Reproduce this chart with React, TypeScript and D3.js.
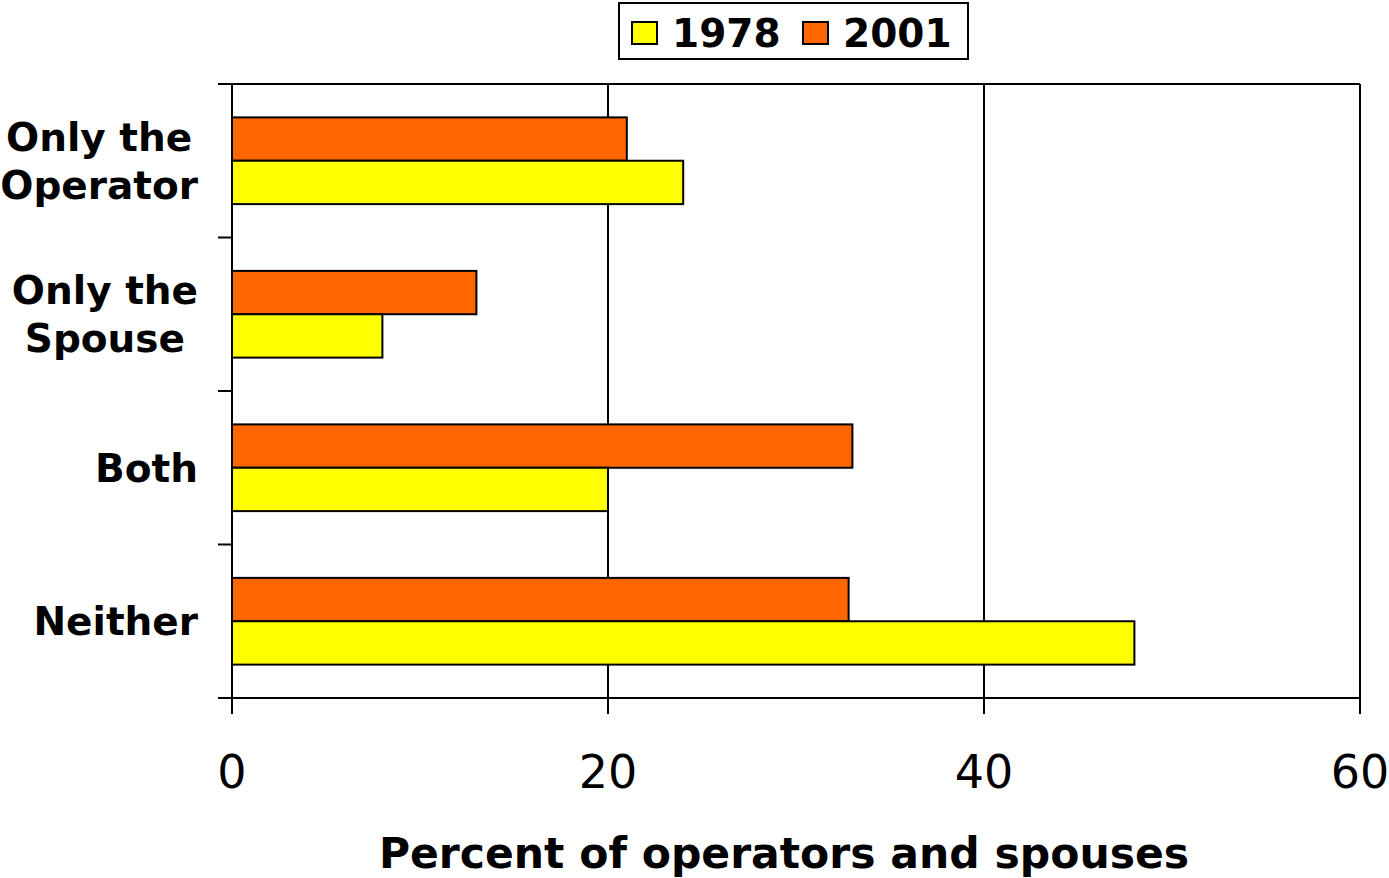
import React, { useEffect, useRef } from "react";
import * as d3 from "d3";

const categories = ["Only the Operator", "Only the Spouse", "Both", "Neither"];
const categoryLines = [["Only the", "Operator"], ["Only the", "Spouse"], ["Both"], ["Neither"]];
const years = ["1978", "2001"];
const values1978 = [24, 8, 20, 48];
const values2001 = [21, 13, 33, 32.8];
const xTicks = [0, 20, 40, 60];
const xTitle = "Percent of operators and spouses";

const colors = { "1978": "#ffff00", "2001": "#ff6600" };
const width = 1389;
const height = 878;
const margin = { top: 84, right: 29, bottom: 180, left: 232 };
const font = "Verdana, 'DejaVu Sans', sans-serif";

export default function App() {
  const svgRef = useRef(null);

  useEffect(() => {
    const root = d3.select(svgRef.current);
    root.selectAll("*").remove();

    const plotW = width - margin.left - margin.right;
    const plotH = height - margin.top - margin.bottom;

    const x = d3.scaleLinear().domain([0, 60]).range([margin.left, margin.left + plotW]);
    const y = d3.scaleBand().domain(categories).range([margin.top, margin.top + plotH]).padding(0);
    // 2001 on top, 1978 below inside each category
    const sub = d3.scaleBand().domain(["2001", "1978"]).range([0, y.step()]).paddingInner(0).paddingOuter(0.77);

    const rows = categories.map((c, i) => ({ cat: c, lines: categoryLines[i], v1978: values1978[i], v2001: values2001[i] }));

    // grid + frame
    root.append("g")
      .selectAll("line")
      .data(xTicks.slice(1))
      .join("line")
      .attr("x1", (d) => x(d)).attr("x2", (d) => x(d))
      .attr("y1", margin.top).attr("y2", margin.top + plotH)
      .attr("stroke", "#000").attr("stroke-width", 2);
    root.append("line")
      .attr("x1", margin.left).attr("x2", margin.left + plotW)
      .attr("y1", margin.top).attr("y2", margin.top)
      .attr("stroke", "#000").attr("stroke-width", 2);

    // bars
    const g = root.append("g");
    rows.forEach((r) => {
      ["2001", "1978"].forEach((yr) => {
        const v = yr === "1978" ? r.v1978 : r.v2001;
        g.append("rect")
          .attr("x", x(0))
          .attr("y", y(r.cat) + sub(yr))
          .attr("width", x(v) - x(0))
          .attr("height", sub.bandwidth())
          .attr("fill", colors[yr])
          .attr("stroke", "#000")
          .attr("stroke-width", 2);
      });
    });

    // Y axis
    root.append("line")
      .attr("x1", margin.left).attr("x2", margin.left)
      .attr("y1", margin.top).attr("y2", margin.top + plotH + 16)
      .attr("stroke", "#000").attr("stroke-width", 2);
    const yBounds = categories.map((c) => y(c)).concat([margin.top + plotH]);
    root.append("g")
      .selectAll("line")
      .data(yBounds)
      .join("line")
      .attr("x1", margin.left - 14).attr("x2", margin.left)
      .attr("y1", (d) => d).attr("y2", (d) => d)
      .attr("stroke", "#000").attr("stroke-width", 2);

    // X axis
    root.append("line")
      .attr("x1", margin.left - 14).attr("x2", margin.left + plotW)
      .attr("y1", margin.top + plotH).attr("y2", margin.top + plotH)
      .attr("stroke", "#000").attr("stroke-width", 2);
    root.append("g")
      .selectAll("line")
      .data(xTicks)
      .join("line")
      .attr("x1", (d) => x(d)).attr("x2", (d) => x(d))
      .attr("y1", margin.top + plotH).attr("y2", margin.top + plotH + 16)
      .attr("stroke", "#000").attr("stroke-width", 2);
    root.append("g")
      .selectAll("text")
      .data(xTicks)
      .join("text")
      .attr("x", (d) => x(d))
      .attr("y", 788)
      .attr("text-anchor", "middle")
      .attr("font-family", font)
      .attr("font-size", 46)
      .text((d) => d);

    root.append("text")
      .attr("x", 784)
      .attr("y", 868)
      .attr("text-anchor", "middle")
      .attr("font-family", font)
      .attr("font-weight", "bold")
      .attr("font-size", 42.5)
      .text(xTitle);

    // category labels: block right aligned, lines centred
    const labelRight = 198;
    const lineH = 48;
    rows.forEach((r) => {
      const cy = y(r.cat) + y.bandwidth() / 2;
      const lg = root.append("g");
      const texts = r.lines.map((ln, j) =>
        lg.append("text")
          .attr("font-family", font)
          .attr("font-weight", "bold")
          .attr("font-size", 39)
          .attr("text-anchor", "middle")
          .attr("y", cy + 14 + (j - (r.lines.length - 1) / 2) * lineH)
          .text(ln)
      );
      const maxW = d3.max(texts, (t) => t.node().getComputedTextLength());
      texts.forEach((t) => t.attr("x", labelRight - maxW / 2));
    });

    // legend
    const leg = root.append("g");
    leg.append("rect")
      .attr("x", 619).attr("y", 3).attr("width", 349).attr("height", 56)
      .attr("fill", "#fff").attr("stroke", "#000").attr("stroke-width", 2);
    const legX = [632, 803];
    years.forEach((yr, i) => {
      leg.append("rect")
        .attr("x", legX[i]).attr("y", 22).attr("width", 25).attr("height", 22)
        .attr("fill", colors[yr]).attr("stroke", "#000").attr("stroke-width", 2);
      leg.append("text")
        .attr("x", legX[i] + 40).attr("y", 47)
        .attr("font-family", font)
        .attr("font-weight", "bold")
        .attr("font-size", 39)
        .text(yr);
    });
  }, []);

  return (
    <div style={{ position: "absolute", left: 0, top: 0 }}>
      <svg ref={svgRef} width={width} height={height} style={{ display: "block", background: "#fff" }} />
    </div>
  );
}
